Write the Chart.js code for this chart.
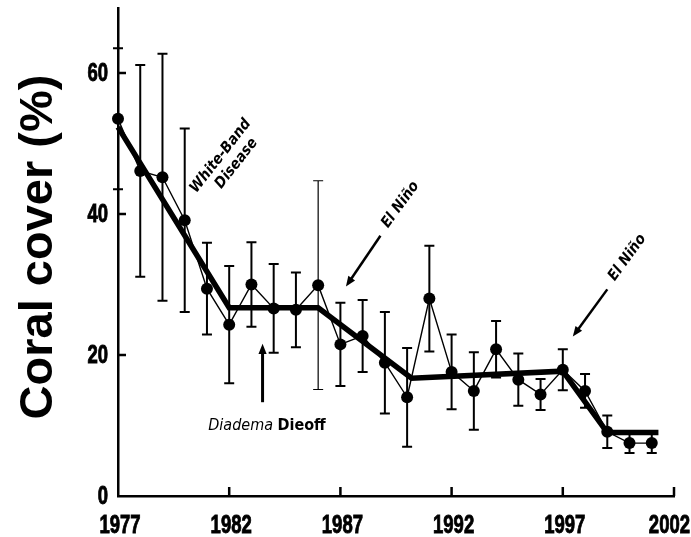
<!DOCTYPE html>
<html>
<head>
<meta charset="utf-8">
<title>Coral cover</title>
<script src="https://cdn.jsdelivr.net/npm/chart.js@4.4.1/dist/chart.umd.min.js"></script>
<style>
  body { margin: 0; background: #fff; }
  #wrap { width: 691px; height: 537px; }
</style>
</head>
<body>
<div id="wrap"><canvas id="coralChart" width="691" height="537"></canvas></div>
<script>
// yearly survey means and their error half-widths
const years = [1977, 1978, 1979, 1980, 1981, 1982, 1983, 1984, 1985, 1986, 1987, 1988, 1989,
  1990, 1991, 1992, 1993, 1994, 1995, 1996, 1997, 1998, 1999, 2000, 2001];
const cover = [53.5, 46.1, 45.2, 39.1, 29.4, 24.3, 30.0, 26.6, 26.4, 29.9, 21.5, 22.7, 18.9,
  14.0, 28.0, 17.6, 14.9, 20.8, 16.5, 14.4, 17.9, 14.9, 9.1, 7.5, 7.5];
const errs = [10, 15, 17.5, 13, 6.5, 8.3, 6, 6.3, 5.3, 14.8, 5.9, 5.1, 7.2,
  7, 7.5, 5.3, 5.5, 4, 3.7, 2.2, 2.9, 2.4, 2.3, 1.4, 1.4];

// piecewise trend
const trendYears = [1977, 1982, 1986, 1990.2, 1997, 1999, 2001.3];
const trendCover = [52.3, 26.7, 26.7, 16.7, 17.7, 9.0, 9.0];

const xTicks = [1977, 1982, 1987, 1992, 1997, 2002];
const yTicks = [0, 20, 40, 60];

const narrow = "'Liberation Sans Narrow', 'DejaVu Sans Condensed', sans-serif";
const tickFont = "bold 25px 'Liberation Sans', Arial, sans-serif";
const squeeze = 0.74;

// condensed heavy label: squeeze a bold face horizontally and thicken it a touch
function squeezed(ctx, text, x, y, align) {
  ctx.save();
  ctx.translate(x, y);
  ctx.scale(squeeze, 1);
  ctx.textAlign = align;
  ctx.lineWidth = 0.9;
  ctx.fillText(text, 0, 0);
  ctx.strokeText(text, 0, 0);
  ctx.restore();
}

function arrow(ctx, x1, y1, x2, y2, w, head) {
  const a = Math.atan2(y2 - y1, x2 - x1);
  ctx.lineWidth = w;
  ctx.beginPath();
  ctx.moveTo(x1, y1);
  ctx.lineTo(x2 - Math.cos(a) * head * 0.8, y2 - Math.sin(a) * head * 0.8);
  ctx.stroke();
  ctx.beginPath();
  ctx.moveTo(x2, y2);
  ctx.lineTo(x2 - head * Math.cos(a - 0.38), y2 - head * Math.sin(a - 0.38));
  ctx.lineTo(x2 - head * Math.cos(a + 0.38), y2 - head * Math.sin(a + 0.38));
  ctx.closePath();
  ctx.fill();
}

const decorations = {
  id: 'decorations',
  beforeDatasetsDraw(chart) {
    const { ctx, scales: { x, y } } = chart;
    ctx.save();
    ctx.strokeStyle = '#000';
    years.forEach((yr, i) => {
      const px = x.getPixelForValue(yr);
      const top = y.getPixelForValue(cover[i] + errs[i]);
      const bot = y.getPixelForValue(cover[i] - errs[i]);
      ctx.lineWidth = yr === 1986 ? 1.2 : 2;
      ctx.beginPath();
      ctx.moveTo(px, top); ctx.lineTo(px, bot);
      ctx.moveTo(px - 5, top); ctx.lineTo(px + 5, top);
      ctx.moveTo(px - 5, bot); ctx.lineTo(px + 5, bot);
      ctx.stroke();
    });
    ctx.restore();
  },
  afterDraw(chart) {
    const { ctx, scales: { x, y } } = chart;
    const P = (a, b) => [x.getPixelForValue(a), y.getPixelForValue(b)];
    ctx.save();
    ctx.strokeStyle = '#000';
    ctx.fillStyle = '#000';

    // inward tick marks
    ctx.lineWidth = 2.5;
    ctx.beginPath();
    yTicks.slice(1).forEach(v => {
      const py = y.getPixelForValue(v);
      ctx.moveTo(x.left, py); ctx.lineTo(x.left + 8, py);
    });
    xTicks.slice(1).forEach(v => {
      const px = x.getPixelForValue(v);
      ctx.moveTo(px, y.bottom); ctx.lineTo(px, y.bottom - 9);
    });
    ctx.stroke();

    // tick labels (the last year label is kept inside the canvas)
    ctx.font = tickFont;
    ctx.textBaseline = 'alphabetic';
    xTicks.forEach(v => {
      const half = ctx.measureText(String(v)).width * squeeze / 2;
      const cx = Math.min(x.getPixelForValue(v) + 2, chart.width - 1 - half);
      squeezed(ctx, String(v), cx, y.bottom + 37, 'center');
    });
    ctx.textBaseline = 'middle';
    yTicks.forEach(v => squeezed(ctx, String(v), x.left - 10, y.getPixelForValue(v) + 1, 'right'));

    // axis title
    ctx.save();
    ctx.translate(52, 247);
    ctx.rotate(-Math.PI / 2);
    ctx.font = "bold 47px 'Liberation Sans', Arial, sans-serif";
    ctx.textAlign = 'center';
    ctx.textBaseline = 'alphabetic';
    ctx.fillText('Coral cover (%)', 0, 0);
    ctx.restore();

    // event labels
    let [tx, ty] = P(1981.9, 47.5);
    ctx.save();
    ctx.translate(tx, ty);
    ctx.rotate(-52 * Math.PI / 180);
    ctx.font = 'italic bold 15px ' + narrow;
    ctx.textAlign = 'center';
    ctx.textBaseline = 'middle';
    ctx.fillText('White-Band', 0, -8);
    ctx.fillText('Disease', 4, 9);
    ctx.restore();

    [[1989.7, 41.3], [1999.9, 33.8]].forEach(([a, b]) => {
      [tx, ty] = P(a, b);
      ctx.save();
      ctx.translate(tx, ty);
      ctx.rotate(-54 * Math.PI / 180);
      ctx.font = 'italic bold 15px ' + narrow;
      ctx.textAlign = 'center';
      ctx.textBaseline = 'middle';
      ctx.fillText('El Niño', 0, 0);
      ctx.restore();
    });

    arrow(ctx, ...P(1988.8, 36.9), ...P(1987.25, 29.7), 2.5, 11);
    arrow(ctx, ...P(1999.0, 29.3), ...P(1997.45, 22.6), 2.5, 11);
    arrow(ctx, ...P(1983.5, 13.3), ...P(1983.5, 21.6), 3, 11);

    [tx, ty] = P(1983.7, 10.0);
    ctx.textBaseline = 'middle';
    ctx.font = 'italic 16px ' + narrow;
    const w1 = ctx.measureText('Diadema ').width;
    ctx.font = '600 16px ' + narrow;
    const w2 = ctx.measureText('Dieoff').width;
    const start = tx - (w1 + w2) / 2;
    ctx.textAlign = 'left';
    ctx.font = 'italic 16px ' + narrow;
    ctx.fillText('Diadema ', start, ty);
    ctx.font = '600 16px ' + narrow;
    ctx.fillText('Dieoff', start + w1, ty);

    ctx.restore();
  }
};

new Chart(document.getElementById('coralChart').getContext('2d'), {
  type: 'line',
  data: {
    datasets: [
      {
        label: 'Coral cover',
        data: years.map((yr, i) => ({ x: yr, y: cover[i] })),
        borderColor: '#000',
        borderWidth: 1.4,
        pointRadius: 6,
        pointBackgroundColor: '#000',
        pointBorderWidth: 0,
        tension: 0,
        clip: false
      },
      {
        label: 'Trend',
        data: trendYears.map((yr, i) => ({ x: yr, y: trendCover[i] })),
        borderColor: '#000',
        borderWidth: 5.5,
        pointRadius: 0,
        tension: 0,
        clip: false
      }
    ]
  },
  options: {
    responsive: false,
    animation: false,
    events: [],
    layout: { padding: { top: 8, right: 17, left: 0, bottom: 0 } },
    plugins: { legend: { display: false }, tooltip: { enabled: false } },
    scales: {
      x: {
        type: 'linear',
        min: 1977,
        max: 2002,
        afterFit(scale) {
          scale.height = 41;
          scale.paddingLeft = 0;
          scale.paddingRight = 0;
        },
        afterBuildTicks(scale) { scale.ticks = xTicks.map(v => ({ value: v })); },
        grid: { display: false, drawTicks: false },
        border: { display: true, color: '#000', width: 2.5 },
        ticks: { display: false }
      },
      y: {
        type: 'linear',
        min: 0,
        max: 69.2,
        afterFit(scale) {
          scale.width = 118;
          scale.paddingTop = 0;
          scale.paddingBottom = 0;
        },
        afterBuildTicks(scale) { scale.ticks = yTicks.map(v => ({ value: v })); },
        grid: { display: false, drawTicks: false },
        border: { display: true, color: '#000', width: 2.5 },
        ticks: { display: false }
      }
    }
  },
  plugins: [decorations]
});
</script>
</body>
</html>
